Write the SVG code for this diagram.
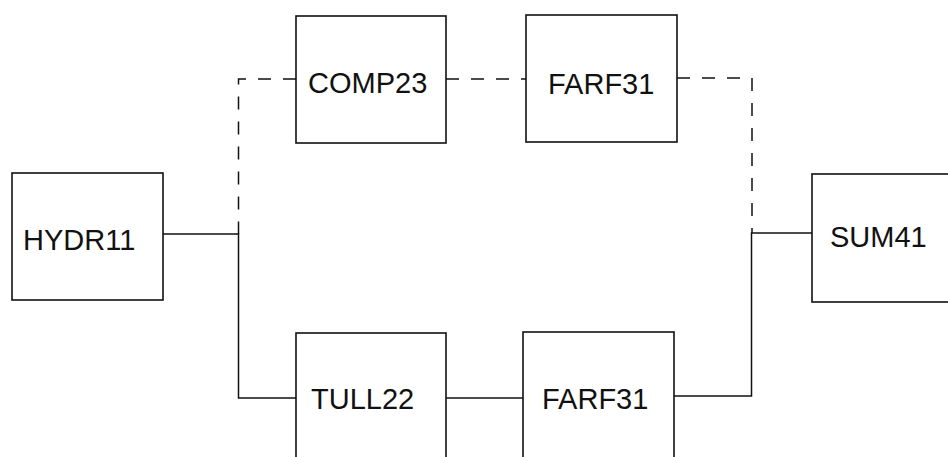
<svg xmlns="http://www.w3.org/2000/svg" width="948" height="457" viewBox="0 0 948 457">
<style>
.box{fill:#fff;stroke:#111;stroke-width:1.6}
.lbl{font-family:"Liberation Sans",Arial,sans-serif;font-size:29px;fill:#111}
.solid{fill:none;stroke:#111;stroke-width:1.5}
.dash{fill:none;stroke:#111;stroke-width:1.5;stroke-dasharray:13 12}
</style>
<rect width="948" height="457" fill="#fff"/>
<g id="connectors">
<path class="dash" d="M296,79 H238.5 V234"/>
<path class="dash" d="M446,79 H526"/>
<path class="dash" d="M677,78 H752 V233"/>
<path class="solid" d="M163,234 H238.5 V398 H296"/>
<path class="solid" d="M446,398 H523"/>
<path class="solid" d="M674,396 H751.5 V233 H812"/>
</g>
<g id="HYDR11"><rect class="box" x="12" y="173" width="151" height="127"/><text class="lbl" x="23" y="250">HYDR11</text></g>
<g id="COMP23"><rect class="box" x="296" y="16" width="150" height="127"/><text class="lbl" x="308" y="93">COMP23</text></g>
<g id="FARF31a"><rect class="box" x="526" y="15" width="151" height="127"/><text class="lbl" x="548" y="94">FARF31</text></g>
<g id="SUM41"><rect class="box" x="812" y="174" width="140" height="128"/><text class="lbl" x="830" y="247">SUM41</text></g>
<g id="TULL22"><rect class="box" x="296" y="333" width="150" height="130"/><text class="lbl" x="311" y="409">TULL22</text></g>
<g id="FARF31b"><rect class="box" x="523" y="332" width="151" height="131"/><text class="lbl" x="542" y="409">FARF31</text></g>
</svg>
